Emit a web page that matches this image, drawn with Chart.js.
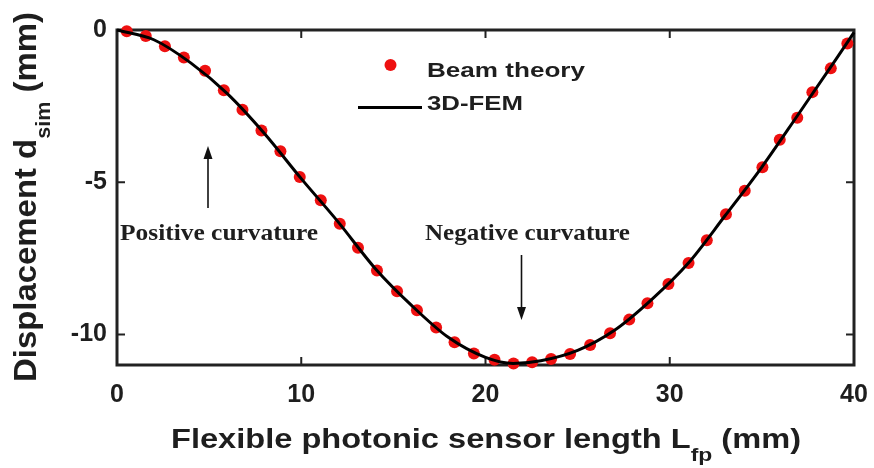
<!DOCTYPE html>
<html>
<head>
<meta charset="utf-8">
<script src="https://cdn.jsdelivr.net/npm/chart.js@4"></script>
<style>
  html, body { margin: 0; padding: 0; background: #fff; }
  #wrap { width: 874px; height: 468px; }
</style>
</head>
<body>
<div id="wrap"><canvas id="canvas" width="874" height="468"></canvas></div>
<script>
// tick labels
var xTicks = [0, 10, 20, 30, 40];
var yTicks = [0, -5, -10];

// Beam theory (red dots)
var beamX = [0.53, 1.56, 2.60, 3.63, 4.78, 5.80, 6.81, 7.84, 8.87, 9.92,
             11.06, 12.09, 13.08, 14.11, 15.20, 16.28, 17.32, 18.32, 19.37, 20.49,
             21.52, 22.53, 23.56, 24.59, 25.68, 26.76, 27.80, 28.79, 29.93, 31.02,
             32.01, 33.05, 34.07, 35.03, 35.97, 36.92, 37.74, 38.74, 39.64];
var beamY = [-0.04, -0.20, -0.53, -0.90, -1.34, -1.98, -2.62, -3.30, -3.98, -4.83,
             -5.59, -6.36, -7.15, -7.90, -8.58, -9.20, -9.77, -10.25, -10.62, -10.83,
             -10.95, -10.91, -10.80, -10.64, -10.34, -9.96, -9.51, -8.97, -8.34, -7.65,
             -6.90, -6.05, -5.28, -4.51, -3.60, -2.88, -2.04, -1.26, -0.44];

// 3D-FEM (black line)
var femX = [0, 2, 4, 6, 8, 10, 12, 14, 16, 18, 20, 21.5, 23, 25, 27, 29, 31, 33, 35, 37, 39, 40];
var femY = [0, -0.32, -1.08, -2.10, -3.40, -4.88, -6.30, -7.82, -9.05, -10.10, -10.75, -10.95,
            -10.86, -10.52, -9.86, -8.86, -7.66, -6.10, -4.50, -2.75, -0.98, -0.08];

var INK = '#1e1e1e';
var RED = 'rgb(238,16,16)';

function toPoints(xs, ys) {
  return xs.map(function(x, i) { return {x: x, y: ys[i]}; });
}

// draw a run of text pieces [text, font, baselineShift] squeezed/stretched to a width
function fitText(ctx, parts, x, y, width, angle) {
  var total = 0;
  parts.forEach(function(p) { ctx.font = p[1]; p.w = ctx.measureText(p[0]).width; total += p.w; });
  var s = width / total;
  ctx.save();
  ctx.translate(x, y);
  if (angle) ctx.rotate(angle);
  ctx.scale(s, 1);
  ctx.fillStyle = INK;
  ctx.textBaseline = 'alphabetic';
  ctx.textAlign = 'left';
  var off = 0;
  parts.forEach(function(p) {
    ctx.font = p[1];
    ctx.fillText(p[0], off, p[2] || 0);
    off += p.w;
  });
  ctx.restore();
}

function arrow(ctx, x, y0, y1) {
  var dir = y1 > y0 ? 1 : -1;
  ctx.save();
  ctx.strokeStyle = '#111';
  ctx.fillStyle = '#111';
  ctx.lineWidth = 1.6;
  ctx.beginPath();
  ctx.moveTo(x, y0);
  ctx.lineTo(x, y1 - dir * 10);
  ctx.stroke();
  ctx.beginPath();
  ctx.moveTo(x, y1);
  ctx.lineTo(x - 4.5, y1 - dir * 13);
  ctx.lineTo(x + 4.5, y1 - dir * 13);
  ctx.closePath();
  ctx.fill();
  ctx.restore();
}

var decor = {
  id: 'decor',
  beforeDatasetsDraw: function(chart) {
    var ctx = chart.ctx, a = chart.chartArea;
    var xs = chart.scales.x, ys = chart.scales.y;
    ctx.save();
    ctx.strokeStyle = '#222';
    ctx.lineWidth = 3;
    ctx.strokeRect(a.left, a.top, a.right - a.left, a.bottom - a.top);
    ctx.lineWidth = 2;
    xTicks.forEach(function(v) {
      var px = xs.getPixelForValue(v);
      ctx.beginPath();
      ctx.moveTo(px, a.bottom); ctx.lineTo(px, a.bottom - 8);
      ctx.moveTo(px, a.top); ctx.lineTo(px, a.top + 8);
      ctx.stroke();
    });
    yTicks.forEach(function(v) {
      var py = ys.getPixelForValue(v);
      ctx.beginPath();
      ctx.moveTo(a.left, py); ctx.lineTo(a.left + 8, py);
      ctx.moveTo(a.right, py); ctx.lineTo(a.right - 8, py);
      ctx.stroke();
    });
    ctx.restore();
  },
  afterDraw: function(chart) {
    var ctx = chart.ctx;
    var sans = '"Liberation Sans", Arial, sans-serif';
    var serif = '"Liberation Serif", "Times New Roman", serif';

    // axis titles
    fitText(ctx, [
      ['Flexible photonic sensor length L', 'bold 27px ' + sans, 0],
      ['fp', 'bold 19px ' + sans, 13],
      [' (mm)', 'bold 27px ' + sans, 0]
    ], 171, 448, 630, 0);
    fitText(ctx, [
      ['Displacement d', 'bold 32px ' + sans, 0],
      ['sim', 'bold 21px ' + sans, 14],
      [' (mm)', 'bold 32px ' + sans, 0]
    ], 36, 382, 370, -Math.PI / 2);

    // legend
    var ds0 = chart.data.datasets[1], ds1 = chart.data.datasets[0];
    ctx.save();
    ctx.fillStyle = ds0.backgroundColor;
    ctx.beginPath();
    ctx.arc(390.5, 65, 6, 0, Math.PI * 2);
    ctx.fill();
    ctx.strokeStyle = ds1.borderColor;
    ctx.lineWidth = 3;
    ctx.beginPath();
    ctx.moveTo(358, 107.5); ctx.lineTo(422, 107.5);
    ctx.stroke();
    ctx.restore();
    fitText(ctx, [[ds0.label, 'bold 21px ' + sans, 0]], 427, 76.5, 158, 0);
    fitText(ctx, [[ds1.label, 'bold 21px ' + sans, 0]], 427, 110, 96, 0);

    // annotations
    fitText(ctx, [['Positive curvature', 'bold 24px ' + serif, 0]], 120, 240, 198, 0);
    fitText(ctx, [['Negative curvature', 'bold 24px ' + serif, 0]], 425, 240, 205, 0);
    arrow(ctx, 208, 208, 146);
    arrow(ctx, 521.5, 255, 320);
  }
};

var ctx = document.getElementById('canvas');
var chart = new Chart(ctx, {
  type: 'scatter',
  data: {
    datasets: [
      {
        label: '3D-FEM',
        data: toPoints(femX, femY),
        showLine: true,
        borderColor: '#000',
        borderWidth: 3,
        pointRadius: 0,
        cubicInterpolationMode: 'monotone',
        order: 0,
        clip: false
      },
      {
        label: 'Beam theory',
        data: toPoints(beamX, beamY),
        showLine: false,
        backgroundColor: RED,
        borderWidth: 0,
        pointRadius: 6,
        order: 1,
        clip: false
      }
    ]
  },
  options: {
    responsive: false,
    animation: false,
    events: [],
    layout: { padding: { left: 0, right: 20, top: 30, bottom: 0 } },
    plugins: { legend: { display: false }, tooltip: { enabled: false }, title: { display: false } },
    scales: {
      x: {
        type: 'linear', min: 0, max: 40,
        grid: { display: false, drawTicks: false },
        border: { display: false },
        afterBuildTicks: function(s) { s.ticks = xTicks.map(function(v) { return {value: v}; }); },
        afterFit: function(s) { s.height = 103; s.paddingLeft = 0; s.paddingRight = 0; },
        ticks: { color: INK, font: { family: '"Liberation Sans", Arial, sans-serif', size: 25, weight: 'bold' }, padding: 15, maxRotation: 0 }
      },
      y: {
        type: 'linear', min: -11, max: 0,
        grid: { display: false, drawTicks: false },
        border: { display: false },
        afterBuildTicks: function(s) { s.ticks = yTicks.map(function(v) { return {value: v}; }); },
        afterFit: function(s) { s.width = 117; s.paddingTop = 0; s.paddingBottom = 0; },
        ticks: { color: INK, font: { family: '"Liberation Sans", Arial, sans-serif', size: 25, weight: 'bold' }, padding: 10 }
      }
    }
  },
  plugins: [decor]
});
</script>
</body>
</html>
